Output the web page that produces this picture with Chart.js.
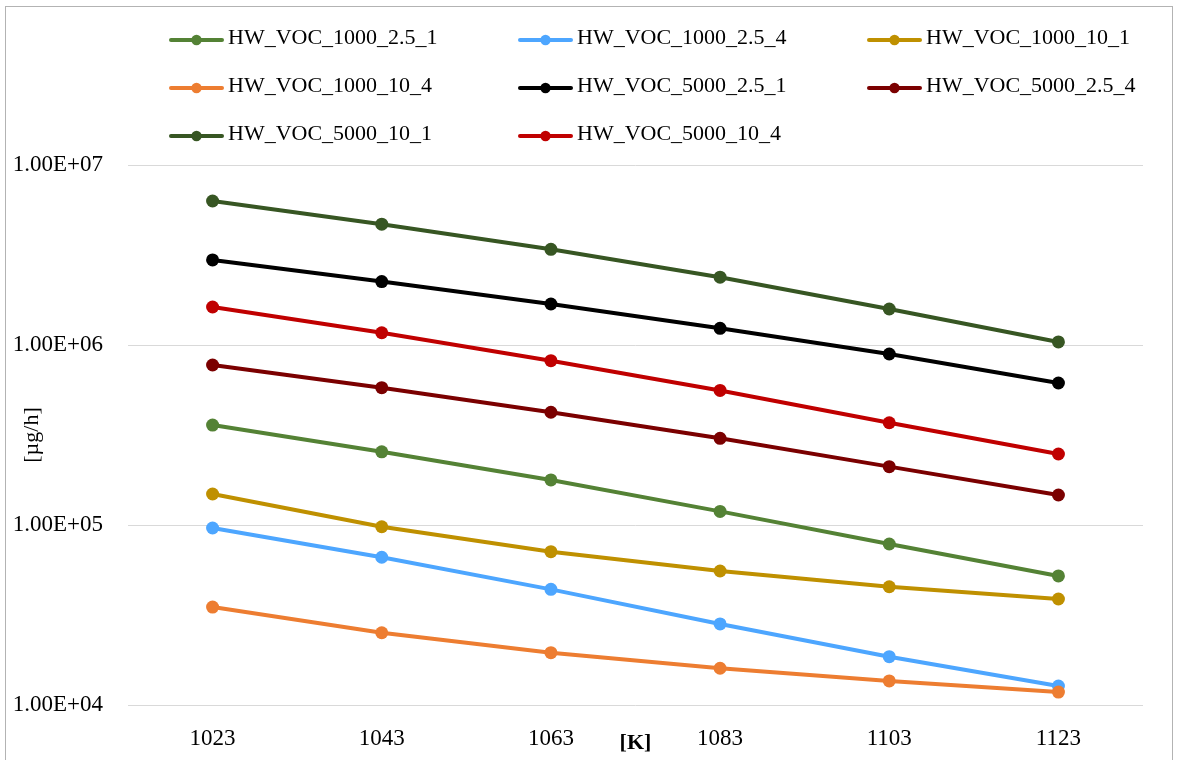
<!DOCTYPE html>
<html>
<head>
<meta charset="utf-8">
<script src="https://cdn.jsdelivr.net/npm/chart.js@4/dist/chart.umd.min.js"></script>
<style>
  html, body { margin: 0; padding: 0; background: #ffffff; }
  #wrap { position: relative; width: 1178px; height: 760px; }
</style>
</head>
<body>
<div id="wrap"><canvas id="c" width="1178" height="760"></canvas></div>
<script>
// Temperatures on the category axis
const categories = ['1023', '1043', '1063', '1083', '1103', '1123'];

// Emission rates [µg/h] per configuration
const hw1000_25_1 = [3.59e5, 2.55e5, 1.78e5, 1.19e5, 7.84e4, 5.21e4];
const hw1000_25_4 = [9.62e4, 6.62e4, 4.39e4, 2.82e4, 1.855e4, 1.275e4];
const hw1000_10_1 = [1.487e5, 9.78e4, 7.11e4, 5.55e4, 4.54e4, 3.88e4];
const hw1000_10_4 = [3.50e4, 2.52e4, 1.953e4, 1.60e4, 1.36e4, 1.18e4];
const hw5000_25_1 = [2.97e6, 2.25e6, 1.69e6, 1.238e6, 8.91e5, 6.15e5];
const hw5000_25_4 = [7.74e5, 5.79e5, 4.23e5, 3.03e5, 2.11e5, 1.468e5];
const hw5000_10_1 = [6.31e6, 4.69e6, 3.40e6, 2.38e6, 1.585e6, 1.04e6];
const hw5000_10_4 = [1.626e6, 1.17e6, 8.18e5, 5.59e5, 3.70e5, 2.48e5];

const seriesNames = [
  'HW_VOC_1000_2.5_1', 'HW_VOC_1000_2.5_4', 'HW_VOC_1000_10_1', 'HW_VOC_1000_10_4',
  'HW_VOC_5000_2.5_1', 'HW_VOC_5000_2.5_4', 'HW_VOC_5000_10_1', 'HW_VOC_5000_10_4'
];
const seriesValues = [
  hw1000_25_1, hw1000_25_4, hw1000_10_1, hw1000_10_4,
  hw5000_25_1, hw5000_25_4, hw5000_10_1, hw5000_10_4
];
const seriesColors = [
  '#548235', '#4da6ff', '#bf9000', '#ed7d31',
  '#000000', '#7b0000', '#375623', '#c00000'
];

// Logarithmic axis ticks
const yTickValues = [1e4, 1e5, 1e6, 1e7];
const yTickLabels = ['1.00E+04', '1.00E+05', '1.00E+06', '1.00E+07'];

const yTitle = '[µg/h]';
const xTitle = '[K]';

const FONT = '"Liberation Serif", "Times New Roman", serif';

const datasets = seriesNames.map((name, i) => ({
  label: name,
  data: seriesValues[i],
  borderColor: seriesColors[i],
  backgroundColor: seriesColors[i],
  pointBackgroundColor: seriesColors[i],
  pointBorderColor: seriesColors[i],
  borderWidth: 4,
  pointRadius: 6.5,
  pointHoverRadius: 6.5,
  pointBorderWidth: 0,
  tension: 0,
  order: -i
}));

// Frame, axis titles and a three-column legend drawn on the canvas
const decorations = {
  id: 'decorations',
  beforeDraw(chart) {
    const ctx = chart.ctx;
    ctx.save();
    ctx.fillStyle = '#ffffff';
    ctx.fillRect(0, 0, chart.width, chart.height);
    ctx.strokeStyle = '#b3b3b3';
    ctx.lineWidth = 1;
    ctx.strokeRect(5.5, 6.5, chart.width - 11, chart.height + 20);
    ctx.restore();
  },
  afterDraw(chart) {
    const ctx = chart.ctx;
    const area = chart.chartArea;
    ctx.save();

    // axis titles
    ctx.fillStyle = '#000000';
    ctx.textAlign = 'center';
    ctx.textBaseline = 'middle';
    ctx.font = 'bold 22px ' + FONT;
    ctx.fillText(xTitle, (area.left + area.right) / 2, 743);
    ctx.translate(32, (area.top + area.bottom) / 2);
    ctx.rotate(-Math.PI / 2);
    ctx.font = '22px ' + FONT;
    ctx.fillText(yTitle, 0, 0);
    ctx.setTransform(1, 0, 0, 1, 0, 0);

    // legend
    const colX0 = 170, colStep = 349, rowY0 = 40, rowStep = 48, lineLen = 53;
    ctx.font = '22px ' + FONT;
    ctx.textAlign = 'left';
    chart.data.datasets.forEach((ds, i) => {
      const x = colX0 + (i % 3) * colStep;
      const y = rowY0 + Math.floor(i / 3) * rowStep;
      ctx.strokeStyle = ds.borderColor;
      ctx.lineWidth = 4;
      ctx.lineCap = 'round';
      ctx.beginPath();
      ctx.moveTo(x + 1, y);
      ctx.lineTo(x + lineLen - 1, y);
      ctx.stroke();
      ctx.fillStyle = ds.borderColor;
      ctx.beginPath();
      ctx.arc(x + lineLen / 2, y, 5.2, 0, Math.PI * 2);
      ctx.fill();
      ctx.fillStyle = '#000000';
      ctx.fillText(ds.label, x + lineLen + 5, y - 1.5);
    });
    ctx.restore();
  }
};

new Chart(document.getElementById('c'), {
  type: 'line',
  data: { labels: categories, datasets },
  options: {
    responsive: false,
    animation: false,
    devicePixelRatio: 1,
    layout: { padding: { left: 0, top: 165, right: 35, bottom: 0 } },
    plugins: {
      legend: { display: false },
      tooltip: { enabled: false },
      title: { display: false }
    },
    scales: {
      x: {
        type: 'category',
        offset: true,
        grid: { display: false, drawTicks: false },
        border: { display: false },
        ticks: {
          color: '#000000',
          font: { family: FONT, size: 23 },
          padding: 20,
          maxRotation: 0
        },
        afterFit(scale) { scale.height = 55; }
      },
      y: {
        type: 'logarithmic',
        min: 1e4,
        max: 1e7,
        grid: { color: '#d9d9d9', lineWidth: 1, drawTicks: false },
        border: { display: false },
        afterBuildTicks(scale) {
          scale.ticks = yTickValues.map(v => ({ value: v }));
        },
        ticks: {
          color: '#000000',
          font: { family: FONT, size: 23 },
          padding: 25,
          autoSkip: false,
          callback(value) {
            const idx = yTickValues.indexOf(value);
            return idx >= 0 ? yTickLabels[idx] : '';
          }
        },
        afterFit(scale) { scale.width = 128; }
      }
    }
  },
  plugins: [decorations]
});
</script>
</body>
</html>
